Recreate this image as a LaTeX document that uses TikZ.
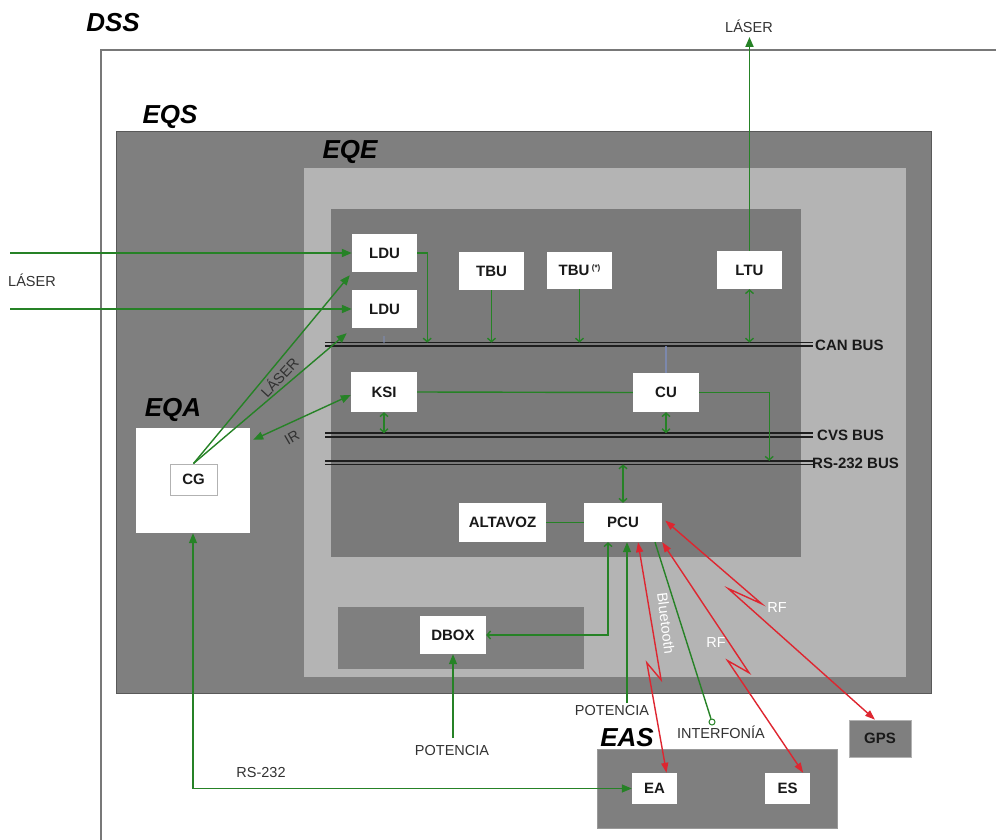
\documentclass[tikz,border=0pt]{standalone}
\usepackage{fontspec}
\setmainfont{Liberation Sans}
\usetikzlibrary{arrows.meta,calc}
\definecolor{gline}{RGB}{38,130,38}
\definecolor{rline}{RGB}{222,38,48}
\definecolor{dgray}{RGB}{127,127,127}
\definecolor{igray}{RGB}{122,122,122}
\definecolor{lgray}{RGB}{180,180,180}
\definecolor{busc}{RGB}{30,30,30}
\definecolor{ghost}{RGB}{125,140,185}
\definecolor{txt}{RGB}{25,25,25}
\definecolor{ltxt}{RGB}{50,50,50}
\definecolor{framec}{RGB}{120,120,120}
\tikzset{
  ftip/.tip={Triangle[length=10pt,width=8pt]},
  rtip/.tip={Triangle[length=10pt,width=7pt]},
  btip/.tip={Straight Barb[length=3.5pt,width=8pt]},
  box/.style={fill=white,draw=none,inner sep=0pt,text=txt,font=\fontsize{15}{18}\selectfont\bfseries},
  ttl/.style={font=\fontsize{26}{30}\selectfont\bfseries\itshape,text=black,inner sep=0pt},
  lbl/.style={font=\fontsize{14.5}{17}\selectfont,text=ltxt,inner sep=0pt},
  wlbl/.style={font=\fontsize{14.5}{17}\selectfont,text=white,inner sep=0pt},
  buslbl/.style={font=\fontsize{15}{18}\selectfont\bfseries,text=txt,inner sep=0pt,anchor=west},
  busln/.style={draw=busc,line width=1.6pt},
  gl/.style={draw=gline,line width=1.4pt},
  gthick/.style={draw=gline,line width=1.9pt},
  ghostln/.style={draw=ghost,line width=2pt,opacity=.8},
  rl/.style={draw=rline,line width=1.4pt,rtip-rtip},
}
\newcommand{\bx}[7][]{\node[box,#1,minimum width={#5-#3},minimum height={#6-#4}] (#2) at ({(#3+#5)/2},{(#4+#6)/2}) {#7};}
\newcommand{\bolt}[4]{\draw[rl] (#1) -- ($(#1)!#3!(#2)!6pt!90:(#2)$) -- ($(#1)!#4!(#2)!6pt!-90:(#2)$) -- (#2);}
\begin{document}
\begin{tikzpicture}[x=1pt,y=-1pt]
\useasboundingbox (0,0) rectangle (996,840);
\fill[white] (0,0) rectangle (996,840);
% DSS frame
\coordinate (dssTL) at (101,50);
\coordinate (dssTR) at (996,50);
\coordinate (dssBL) at (101,840);
\draw[framec,line width=1.5pt] (dssTR) -- (dssTL) -- (dssBL);
\node[ttl] (dss) at (113,23) {DSS};
% containers
\bx[fill=dgray,draw=black!65,line width=1pt]{eqs}{116}{132}{931}{693}{}
\node[ttl] (eqst) at (170,117) {EQS};
\bx[fill=lgray]{eqe}{304}{168}{906}{677}{}
\node[ttl] (eqet) at (350,152) {EQE};
\bx[fill=igray]{inner}{331}{209}{801}{557}{}
\bx[fill=dgray]{dcont}{338}{607}{584}{669}{}
\bx{eqa}{136}{428}{250}{533}{}
\node[ttl] (eqat) at (173,410) {EQA};
\bx[fill=dgray,draw=black!40,line width=0.8pt]{eas}{597}{749}{837}{828}{}
\node[ttl] (east) at (627,738) {EAS};
% boxes
\bx{ldu1}{352}{234}{417}{272}{LDU}
\bx{ldu2}{352}{290}{417}{328}{LDU}
\bx{tbu}{459}{252}{524}{290}{TBU}
\bx{tbus}{547}{252}{612}{289}{TBU\,\raisebox{5pt}{\fontsize{8}{8}\selectfont(*)}}
\bx{ltu}{717}{251}{782}{289}{LTU}
\bx{ksi}{351}{372}{417}{412}{KSI}
\bx{cu}{633}{373}{699}{412}{CU}
\bx{alt}{459}{503}{546}{542}{ALTAVOZ}
\bx{pcu}{584}{503}{662}{542}{PCU}
\bx{dbox}{420}{616}{486}{654}{DBOX}
\bx[draw=black!30,line width=1pt]{cg}{170}{464}{217}{495}{CG}
\bx{ea}{632}{773}{677}{804}{EA}
\bx{es}{765}{773}{810}{804}{ES}
\bx[fill=dgray,draw=black!30,line width=0.6pt]{gps}{849}{720}{911}{757}{GPS}
% buses
\coordinate (canT) at (325,342.6); \coordinate (canTR) at (813,342.6);
\coordinate (canB) at (325,346); \coordinate (canBR) at (813,346);
\coordinate (cvsT) at (325,433.2); \coordinate (cvsTR) at (813,433.2);
\coordinate (cvsB) at (325,436.8); \coordinate (cvsBR) at (813,436.8);
\coordinate (rsT) at (325,460.8); \coordinate (rsTR) at (813,460.8);
\coordinate (rsB) at (325,464.4); \coordinate (rsBR) at (813,464.4);
\draw[busln] (canT) -- (canTR); \draw[busln] (canB) -- (canBR);
\draw[busln] (cvsT) -- (cvsTR); \draw[busln] (cvsB) -- (cvsBR);
\draw[busln] (rsT) -- (rsTR); \draw[busln] (rsB) -- (rsBR);
\node[buslbl] (canl) at (815,345) {CAN BUS};
\node[buslbl] (cvsl) at (817,435) {CVS BUS};
\node[buslbl] (rsl) at (812,463) {RS-232 BUS};
% ghost connectors
\draw[ghostln] (cu.north) -- (cu.north |- canB);
\coordinate (g2) at (384,336);
\draw[ghostln,opacity=.5] (g2) -- (g2 |- canT);
% labels
\node[lbl] (lasertop) at (749,26) {LÁSER};
\node[lbl] (laserleft) at (32,280) {LÁSER};
\node[lbl,rotate=47] (laserdiag) at (279,377) {LÁSER};
\node[lbl,rotate=30] (irt) at (292,438) {IR};
\node[lbl] (pot1) at (452,751) {POTENCIA};
\node[lbl] (pot2) at (612,711) {POTENCIA};
\node[lbl] (intf) at (721,732) {INTERFONÍA};
\node[lbl] (rs232) at (261,773) {RS-232};
\node[wlbl,rotate=-83] (bt) at (666,623) {Bluetooth};
\node[wlbl] (rf1) at (777,608) {RF};
\node[wlbl] (rf2) at (716,643) {RF};
% green connectors
\coordinate (lin1) at (10,253);
\coordinate (lin2) at (10,309);
\draw[gthick,-ftip] (lin1) -- (ldu1.west);
\draw[gthick,-ftip] (lin2) -- (ldu2.west);
\coordinate (c1) at ([xshift=-2pt,yshift=-3pt]ldu1.south west);
\coordinate (c2) at ([xshift=-5pt,yshift=-5pt]ldu2.south west);
\draw[gl,-ftip] (cg.north) -- (c1);
\draw[gl,-ftip] (cg.north) -- (c2);
\coordinate (ir1) at ([yshift=-3pt]ksi.west);
\coordinate (ir2) at ([xshift=3pt,yshift=-12pt]eqa.north east);
\draw[gl,ftip-ftip] (ir2) -- (ir1);
\draw[gl] (ksi.east) -- (cu.west);
\coordinate (cux) at ([xshift=70pt]cu.east);
\draw[gl,-btip] (cu.east) -- (cux) -- (cux |- rsT);
\coordinate (ltop) at (749.5,37);
\draw[gthick,-ftip] (ltu.north) -- (ltop);
\draw[gl,btip-btip] (ltu.south) -- (ltu.south |- canT);
\draw[gl,-btip] (tbu.south) -- (tbu.south |- canT);
\draw[gl,-btip] (tbus.south) -- (tbus.south |- canT);
\coordinate (l1x) at ([xshift=10pt]ldu1.east);
\draw[gl,-btip] (ldu1.east) -- (l1x) -- (l1x |- canT);
\draw[gl,btip-btip] (ksi.south) -- (ksi.south |- cvsT);
\draw[gl,btip-btip] (cu.south) -- (cu.south |- cvsT);
\draw[gl,btip-btip] (pcu.north) -- (pcu.north |- rsB);
\draw[gl] (alt.east) -- (pcu.west);
\coordinate (pdx) at ([xshift=-15pt]pcu.south);
\draw[gl,btip-btip] (pdx) |- (dbox.east);
\coordinate (p1) at (453,738);
\draw[gl,-ftip] (p1) -- (dbox.south);
\coordinate (p2) at (627,703);
\draw[gl,-ftip] (p2) -- (p2 |- pcu.south);
\node[circle,draw=gline,line width=1pt,fill=white,inner sep=0pt,minimum size=6pt] (intc) at (712,722) {};
\coordinate (ifa) at ([xshift=32pt]pcu.south);
\draw[gl] (ifa) -- (intc);
\draw[gl,ftip-ftip] (eqa.south) |- (ea.west);
% red links
\coordinate (r1a) at ([xshift=15pt]pcu.south);
\coordinate (r1b) at ([xshift=12pt]ea.north);
\coordinate (r2a) at (pcu.south east);
\coordinate (r2b) at ([xshift=-7pt]es.north east);
\coordinate (r3a) at ([xshift=3pt,yshift=2pt]pcu.east);
\coordinate (r3b) at ([xshift=-5pt]gps.north);
\bolt{r1a}{r1b}{0.6}{0.52}
\bolt{r2a}{r2b}{0.58}{0.5}
\bolt{r3a}{r3b}{0.44}{0.32}
\end{tikzpicture}
\end{document}
